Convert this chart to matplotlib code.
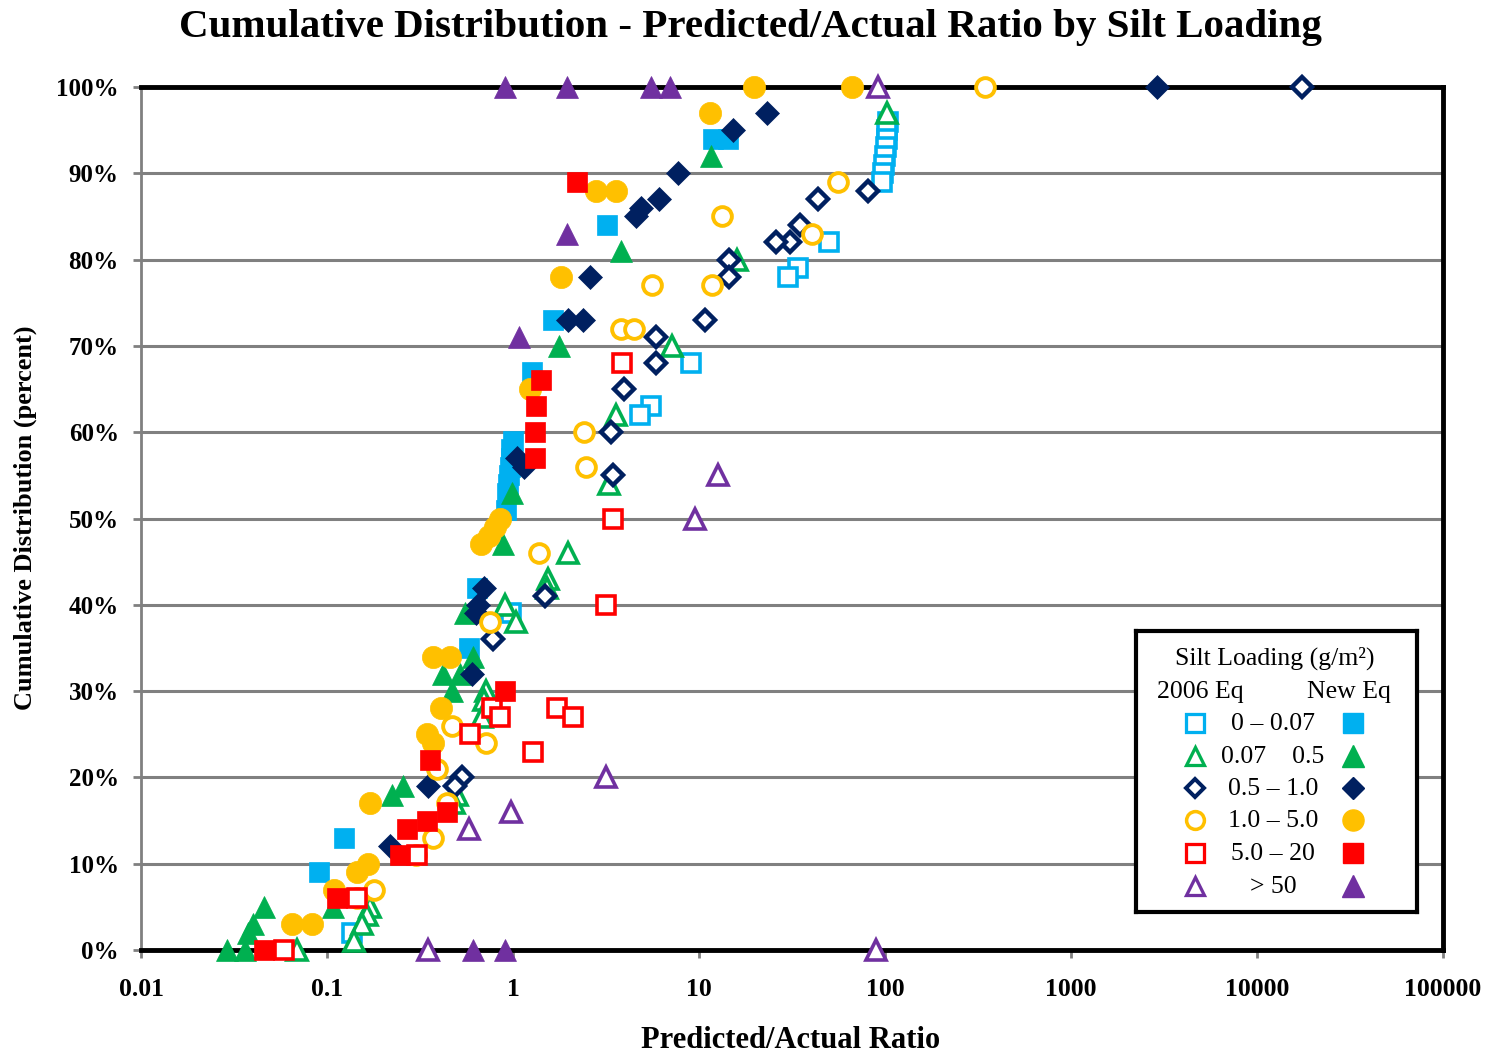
import numpy as np
import matplotlib
matplotlib.use('Agg')
import matplotlib.pyplot as plt
from matplotlib.ticker import FixedLocator, FixedFormatter

plt.rcParams['font.family'] = ['Liberation Serif', 'DejaVu Serif']

# predicted/actual ratio (x) and cumulative percent (y) per silt loading range
# "old" = 2006 equation, "new" = new equation
cyan_old_x = [104, 103, 102, 101, 100, 99, 97, 96, 50, 34, 30, 9.1, 5.5, 4.8, 0.98, 0.136]
cyan_old_y = [96, 95, 94, 93, 92, 91, 90, 89, 82, 79, 78, 68, 63, 62, 39, 2]
cyan_new_x = [11.9, 14.3, 3.2, 1.64, 1.26, 1.0, 0.98, 0.97, 0.96, 0.95, 0.94, 0.93, 0.92,
              0.64, 0.58, 0.123, 0.091]
cyan_new_y = [94, 94, 84, 73, 67, 59, 58, 57, 56, 55, 54, 53, 51, 42, 35, 13, 9]

green_old_x = [102, 16, 7.2, 3.6, 3.3, 1.98, 1.54, 1.52, 0.91, 1.04, 0.72, 0.70, 0.68,
               0.50, 0.48, 0.17, 0.165, 0.155, 0.14, 0.069]
green_old_y = [97, 80, 70, 62, 54, 46, 43, 42, 40, 38, 30, 29, 27, 18, 17, 5, 4, 3, 1, 0]
green_new_x = [11.6, 3.8, 1.77, 0.99, 0.88, 0.55, 0.61, 0.42, 0.52, 0.47, 0.224, 0.256,
               0.108, 0.046, 0.040, 0.0376, 0.029, 0.0364]
green_new_y = [92, 81, 70, 53, 47, 39, 34, 32, 32, 30, 18, 19, 5, 5, 3, 2, 0, 0]

navy_old_x = [17500, 81, 43.6, 35, 31, 26, 14.5, 14.5, 10.8, 5.9, 5.9, 3.95, 3.37, 3.45,
              1.49, 0.78, 0.53, 0.49]
navy_old_y = [100, 88, 87, 84, 82, 82, 80, 78, 73, 71, 68, 65, 60, 55, 41, 36, 20, 19]
navy_new_x = [2900, 23.2, 15.2, 7.7, 6.1, 4.9, 4.6, 2.6, 2.38, 1.98, 1.05, 1.15, 0.70,
              0.65, 0.63, 0.60, 0.35, 0.218]
navy_new_y = [100, 97, 95, 90, 87, 86, 85, 78, 73, 73, 57, 56, 42, 40, 39, 32, 19, 12]

yellow_old_x = [345, 56, 13.3, 40.5, 11.7, 5.6, 3.8, 4.47, 2.41, 2.47, 1.38, 0.75, 0.47,
                0.72, 0.39, 0.44, 0.37, 0.30, 0.18, 0.145]
yellow_old_y = [100, 89, 85, 83, 77, 77, 72, 72, 60, 56, 46, 38, 26, 24, 21, 17, 13, 11, 7, 6]
yellow_new_x = [19.8, 66.5, 11.5, 2.8, 3.6, 1.81, 1.23, 0.85, 0.80, 0.74, 0.67, 0.37,
                0.46, 0.41, 0.345, 0.37, 0.17, 0.166, 0.145, 0.109, 0.083, 0.065]
yellow_new_y = [100, 100, 97, 88, 88, 78, 65, 50, 49, 48, 47, 34, 34, 28, 25, 24, 17,
                10, 9, 7, 3, 3]

red_old_x = [3.86, 3.45, 3.16, 1.72, 2.1, 1.28, 0.77, 0.85, 0.59, 0.305, 0.145, 0.059]
red_old_y = [68, 50, 40, 28, 27, 23, 28, 27, 25, 11, 6, 0]
red_new_x = [2.21, 1.41, 1.33, 1.31, 1.31, 0.91, 0.36, 0.44, 0.345, 0.27, 0.247, 0.113, 0.046]
red_new_y = [89, 66, 63, 60, 57, 30, 22, 16, 15, 14, 11, 6, 0]

purple_old_x = [92, 12.7, 9.5, 3.16, 0.975, 0.58, 0.35, 90]
purple_old_y = [100, 55, 50, 20, 16, 14, 0, 0]
purple_new_x = [0.91, 1.95, 5.5, 7.0, 1.95, 1.08, 0.61, 0.91]
purple_new_y = [100, 100, 100, 100, 83, 71, 0, 0]

ranges = ['0 \u2013 0.07', '0.07    0.5', '0.5 \u2013 1.0', '1.0 \u2013 5.0', '5.0 \u2013 20', '> 50']
colors = ['#00B0F0', '#00B050', '#002060', '#FFC000', '#FF0000', '#7030A0']
markers = ['s', '^', 'D', 'o', 's', '^']
msize = {'s': 15, '^': 16.5, 'D': 12, 'o': 16}
osize = {'s': 13, '^': 14, 'D': 10, 'o': 13.5}
oedge = {'s': 2.6, '^': 2.6, 'D': 3.2, 'o': 2.8}

groups = [
    (cyan_old_x, cyan_old_y, cyan_new_x, cyan_new_y),
    (green_old_x, green_old_y, green_new_x, green_new_y),
    (navy_old_x, navy_old_y, navy_new_x, navy_new_y),
    (yellow_old_x, yellow_old_y, yellow_new_x, yellow_new_y),
    (red_old_x, red_old_y, red_new_x, red_new_y),
    (purple_old_x, purple_old_y, purple_new_x, purple_new_y),
]

fig = plt.figure(figsize=(14.92, 10.59), dpi=100)
ax = fig.add_axes([141 / 1492, 1 - 950 / 1059, 1302 / 1492, 863 / 1059])

for (ox, oy, nx, ny), c, m in zip(groups, colors, markers):
    ax.plot(ox, oy, ls='none', marker=m, ms=osize[m], mfc='white', mec=c, mew=oedge[m],
            clip_on=False, zorder=3)
    ax.plot(nx, ny, ls='none', marker=m, ms=msize[m], mfc=c, mec=c, mew=0.5,
            clip_on=False, zorder=3)

ax.set_xscale('log')
ax.set_xlim(0.01, 100000)
ax.set_ylim(0, 100)

xt = [0.01, 0.1, 1, 10, 100, 1000, 10000, 100000]
ax.xaxis.set_major_locator(FixedLocator(xt))
ax.xaxis.set_major_formatter(FixedFormatter(['0.01', '0.1', '1', '10', '100', '1000', '10000', '100000']))
ax.xaxis.set_minor_locator(FixedLocator([]))
yt = np.arange(0, 101, 10)
ax.set_yticks(yt)
ax.set_yticklabels(['%d%%' % v for v in yt])

ax.yaxis.grid(True, color='#808080', lw=2.2, zorder=0)
ax.set_axisbelow(True)
for s in ['top', 'bottom', 'right']:
    ax.spines[s].set_color('black')
    ax.spines[s].set_linewidth(3.5)
ax.spines['left'].set_color('#808080')
ax.spines['left'].set_linewidth(2)
ax.tick_params(axis='both', color='#808080', width=2, length=6, labelsize=18)
ax.tick_params(axis='x', labelsize=18.5)
ax.tick_params(axis='y', pad=10)
ax.tick_params(axis='x', pad=14)
for lab in ax.get_xticklabels() + ax.get_yticklabels():
    lab.set_fontweight('bold')

fig.text(750 / 1492, 1 - 27 / 1059, 'Cumulative Distribution - Predicted/Actual Ratio by Silt Loading',
         ha='center', va='center', fontsize=29.5, fontweight='bold')
fig.text(791 / 1492, 1 - 1040 / 1059, 'Predicted/Actual Ratio',
         ha='center', va='center', fontsize=22, fontweight='bold')
fig.text(25 / 1492, 1 - 518 / 1059, 'Cumulative Distribution (percent)',
         ha='center', va='center', rotation=90, fontsize=19, fontweight='bold')

# legend box laid out in pixel units from its top-left corner
lg = fig.add_axes([1136 / 1492, 1 - 912 / 1059, 281 / 1492, 281 / 1059], zorder=5)
lg.set_xlim(0, 281)
lg.set_ylim(281, 0)
lg.set_xticks([])
lg.set_yticks([])
for s in lg.spines.values():
    s.set_linewidth(3)
    s.set_color('black')
lg.text(139, 27, 'Silt Loading (g/m\u00b2)', ha='center', va='center', fontsize=18.5)
lg.text(64, 61, '2006 Eq', ha='center', va='center', fontsize=18.5)
lg.text(213, 61, 'New Eq', ha='center', va='center', fontsize=18.5)
row_y = [92, 125, 157, 189, 222, 255]
for r, c, m, ry in zip(ranges, colors, markers, row_y):
    lg.plot([59], [ry], ls='none', marker=m, ms=osize[m] * 0.95, mfc='white', mec=c, mew=oedge[m] * 0.9)
    lg.plot([217], [ry], ls='none', marker=m, ms=msize[m] * 0.95, mfc=c, mec=c)
    lg.text(137, ry + 1, r, ha='center', va='center', fontsize=18.5)

fig.savefig('out.png', dpi=100)
